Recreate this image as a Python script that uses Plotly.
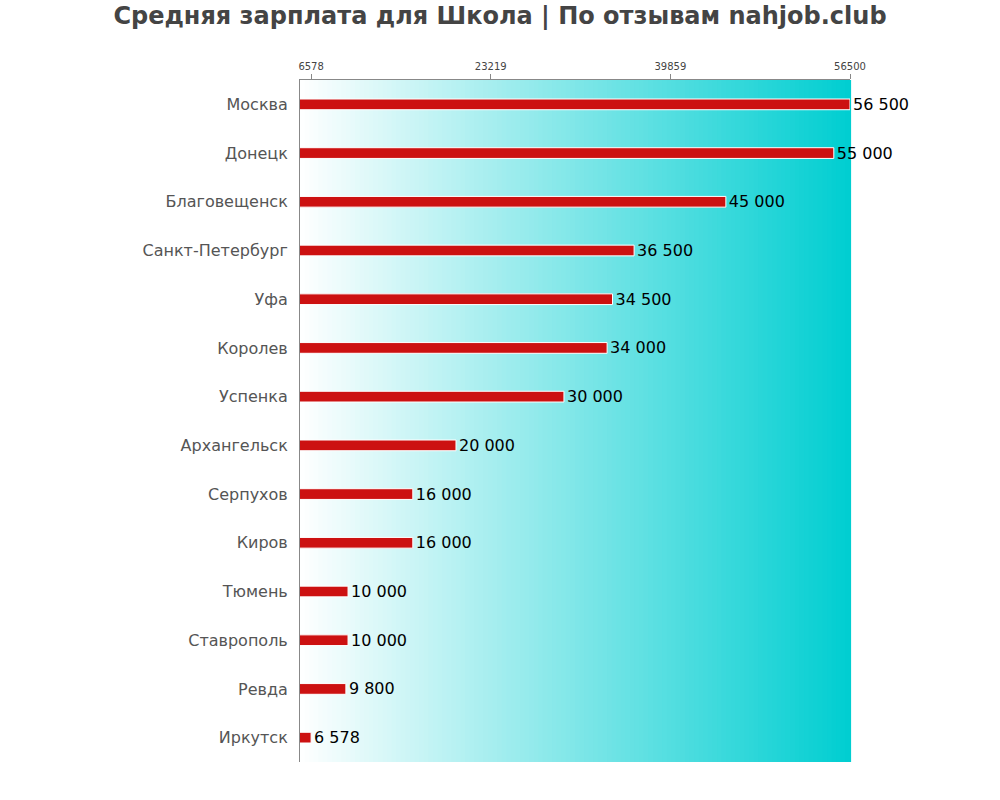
import plotly.graph_objects as go

cities = ["Москва", "Донецк", "Благовещенск", "Санкт-Петербург", "Уфа", "Королев",
          "Успенка", "Архангельск", "Серпухов", "Киров", "Тюмень", "Ставрополь",
          "Ревда", "Иркутск"]
salaries = [56500, 55000, 45000, 36500, 34500, 34000, 30000, 20000, 16000, 16000,
            10000, 10000, 9800, 6578]
tick_vals = [6578, 23219, 39859, 56500]
tick_text = ["6578", "23219", "39859", "56500"]
x_range = [5550, 56500]

labels = [f"{v:,}".replace(",", " ") for v in salaries]

fig = go.Figure()
fig.add_trace(go.Bar(
    y=cities, x=salaries, orientation="h",
    marker=dict(color="#cc1111", line=dict(color="white", width=1)),
    width=0.22,
    text=labels, textposition="outside", cliponaxis=False, constraintext="none",
    textfont=dict(size=16, color="#000000", family="DejaVu Sans"),
    hoverinfo="skip",
))

# gradient background
n = 120
shapes = []
for i in range(n):
    t = (i + 0.5) / n
    r = round(255 + (0 - 255) * t)
    g = round(255 + (206 - 255) * t)
    b = round(255 + (209 - 255) * t)
    shapes.append(dict(type="rect", xref="x domain", yref="y domain",
                       x0=i / n, x1=(i + 1) / n + 0.002, y0=0, y1=1,
                       fillcolor=f"rgb({r},{g},{b})", line=dict(width=0),
                       layer="below"))

fig.update_layout(
    width=1000, height=800,
    margin=dict(l=300, r=150, t=80, b=38),
    paper_bgcolor="white", plot_bgcolor="white",
    shapes=shapes,
    showlegend=False,
    title=dict(text="Средняя зарплата для Школа | По отзывам nahjob.club",
               x=0.5, xanchor="center", y=0.98, yanchor="middle",
               font=dict(family="DejaVu Sans", size=24, color="#444444", weight="bold")),
    font=dict(family="DejaVu Sans"),
)
fig.update_xaxes(side="top", range=x_range, tickvals=tick_vals, ticktext=tick_text,
                 tickfont=dict(size=10, color="#444444"), ticks="outside", ticklen=5,
                 tickcolor="#888888", showgrid=False, showline=True, linecolor="#888888",
                 linewidth=1, zeroline=False, fixedrange=True)
fig.update_yaxes(categoryorder="array", categoryarray=cities[::-1],
                 tickfont=dict(size=16, color="#555555"), showgrid=False,
                 showline=True, linecolor="#888888", linewidth=1, ticks="",
                 ticklabelstandoff=8)

fig.write_html("out.html")
